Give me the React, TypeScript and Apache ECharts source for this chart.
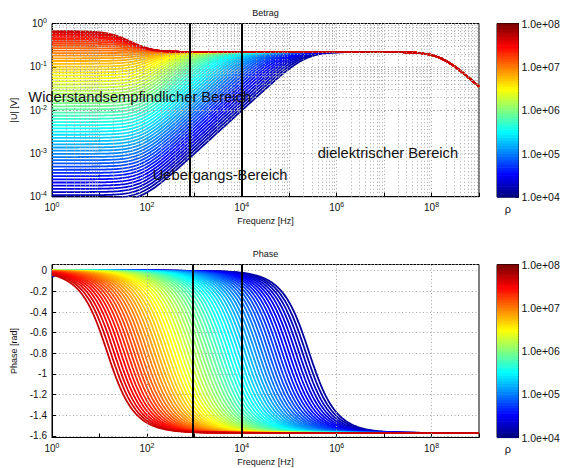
import React, { useEffect, useRef } from "react";
import * as echarts from "echarts";

const FONT = '"Liberation Sans", Arial, Helvetica, sans-serif';
const TXT = "#111";

// ---- data / model parameters ----
const rhoExponentRange = [4, 8]; // colour bar: rho from 1e4 to 1e8
const curveCount = 61;
const curveColorRange = [0.03, 0.93]; // part of the jet map used by the curves
// magnitude: low-frequency ratio G (rho=1e4 -> rho=1e8), electrode corner, capacitive ratio, HF corner
const lowFreqRatio = [13000, 0.5];
const electrodeCornerHz = [78];
const capacitiveRatio = [0.282];
const highFreqCornerHz = [1.6e8];
// phase: corner frequencies (rho=1e4 -> rho=1e8), steepness, low-frequency dip
const phaseCornerHz = [2.6e5, 14.5];
const phaseExponent = [1.2];
const phaseDipHz = [0.25];
// axes
const freqRange = [1, 1e9];
const magRange = [1e-4, 1];
const phaseRange = [-1.615, 0.06];
const boundaryTopHz = [800, 1e4];
const boundaryBottomHz = [920, 1e4];
const bottomGridHz = [1e2, 1e4, 1e6, 1e8];
const minorMultipliers = [2, 3, 4, 5, 6, 7, 8, 9];
const colorbarBands = 64;
const annotationTexts = ["Widerstandsempfindlicher Bereich", "Uebergangs-Bereich", "dielektrischer Bereich"];

const freqs = Array.from({ length: 271 }, (_, i) => Math.pow(10, i / 30));

function jet(t: number) {
  const c = (x: number) => Math.max(0, Math.min(1, x));
  const r = c(Math.min(4 * t - 1.5, -4 * t + 4.5));
  const g = c(Math.min(4 * t - 0.5, -4 * t + 3.5));
  const b = c(Math.min(4 * t + 0.5, -4 * t + 2.5));
  return `rgb(${Math.round(r * 255)},${Math.round(g * 255)},${Math.round(b * 255)})`;
}

function magnitude(f: number, G: number) {
  const fs = electrodeCornerHz[0];
  const k = capacitiveRatio[0];
  const x = f / fs;
  const den = 1 + x * x;
  const re = 1 + (G + (x * x) / k) / den;
  const im = (x / k - G * x) / den;
  const u = 1 / Math.sqrt(re * re + im * im);
  return u / Math.sqrt(1 + Math.pow(f / highFreqCornerHz[0], 2));
}

function phase(f: number, fc: number, fd: number) {
  return -Math.atan(Math.pow(f / fc, phaseExponent[0])) - Math.atan(Math.pow(fd / f, 2));
}

const supLabel = (v: number) => {
  const e = Math.round(Math.log10(v));
  return `{b|10}{s|${e}}`;
};
const supLabelEven = (v: number) => {
  const e = Math.round(Math.log10(v));
  return e % 2 === 0 ? `{b|10}{s|${e}}` : "";
};
const rich = {
  b: { fontSize: 10, fontFamily: FONT, color: TXT, lineHeight: 12 },
  s: { fontSize: 7, fontFamily: FONT, color: TXT, padding: [0, 0, 6, 0] },
};

const dotted = { color: "#a6a6a6", width: 1, type: [1, 2.5] as any };

function buildOption() {
  const series: any[] = [];
  for (let i = 0; i < curveCount; i++) {
    const t = i / (curveCount - 1);
    const G = lowFreqRatio[0] * Math.pow(lowFreqRatio[1] / lowFreqRatio[0], t);
    const fc = phaseCornerHz[0] * Math.pow(phaseCornerHz[1] / phaseCornerHz[0], t);
    const fd = phaseDipHz[0] * Math.pow(10, -(rhoExponentRange[1] - rhoExponentRange[0]) * t);
    const color = jet(curveColorRange[0] + (curveColorRange[1] - curveColorRange[0]) * t);
    series.push({
      type: "line", xAxisIndex: 0, yAxisIndex: 0, z: 3, silent: true,
      showSymbol: false, symbol: "none",
      lineStyle: { color, width: 1.8 },
      data: freqs.map((f) => [f, magnitude(f, G)]),
    });
    series.push({
      type: "line", xAxisIndex: 1, yAxisIndex: 1, z: 3, silent: true,
      showSymbol: false, symbol: "none",
      lineStyle: { color, width: 1.8 },
      data: freqs.map((f) => [f, phase(f, fc, fd)]),
    });
  }
  const minorX: number[] = [];
  for (let e = 0; e < 9; e++) minorMultipliers.forEach((m) => minorX.push(m * Math.pow(10, e)));
  const minorY: number[] = [];
  for (let e = -4; e < 0; e++) minorMultipliers.forEach((m) => minorY.push(m * Math.pow(10, e)));

  const mlBase = { silent: true, symbol: ["none", "none"], label: { show: false }, animation: false };
  series.push({
    type: "line", xAxisIndex: 0, yAxisIndex: 0, z: 1, data: [],
    markLine: { ...mlBase, lineStyle: dotted, data: [...minorX.map((v) => ({ xAxis: v })), ...minorY.map((v) => ({ yAxis: v }))] },
  });
  series.push({
    type: "line", xAxisIndex: 1, yAxisIndex: 1, z: 1, data: [],
    markLine: { ...mlBase, lineStyle: dotted, data: bottomGridHz.map((v) => ({ xAxis: v })) },
  });
  series.push({
    type: "line", xAxisIndex: 0, yAxisIndex: 0, z: 10, data: [],
    markLine: { ...mlBase, lineStyle: { color: "#000", width: 2, type: "solid" }, data: boundaryTopHz.map((v) => ({ xAxis: v })) },
  });
  series.push({
    type: "line", xAxisIndex: 1, yAxisIndex: 1, z: 10, data: [],
    markLine: { ...mlBase, lineStyle: { color: "#000", width: 2, type: "solid" }, data: boundaryBottomHz.map((v) => ({ xAxis: v })) },
  });

  const span = rhoExponentRange[1] - rhoExponentRange[0];
  const bands = Array.from({ length: colorbarBands }, (_, b) => [
    0,
    Math.pow(10, rhoExponentRange[0] + (span * b) / colorbarBands),
    1,
    Math.pow(10, rhoExponentRange[0] + (span * (b + 1)) / colorbarBands),
    b,
  ]);
  const renderBand = (params: any, api: any) => {
    const p0 = api.coord([api.value(0), api.value(1)]);
    const p1 = api.coord([api.value(2), api.value(3)]);
    return {
      type: "rect",
      shape: { x: p0[0], y: p1[1], width: p1[0] - p0[0], height: p0[1] - p1[1] + 0.6 },
      style: { fill: jet(api.value(4) / (colorbarBands - 1)) },
    };
  };
  [2, 3].forEach((gi) =>
    series.push({
      type: "custom", xAxisIndex: gi, yAxisIndex: gi, silent: true,
      encode: { x: [0, 2], y: [1, 3] },
      data: bands, renderItem: renderBand,
    })
  );

  const gridBase = { show: true, borderColor: "#000", borderWidth: 1, backgroundColor: "#fff", outerBoundsMode: "none", containLabel: false };
  const axisLine = { show: true, onZero: false, lineStyle: { color: "#000", width: 1 } };
  const axisTick = { show: true, inside: true, length: 4, lineStyle: { color: "#000" } };
  const nameStyle = { fontSize: 9, fontFamily: FONT, color: TXT };

  const freqAxis = (gi: number, splitShow: boolean) => ({
    type: "log", logBase: 10, gridIndex: gi, min: freqRange[0], max: freqRange[1],
    axisLine, axisTick,
    axisLabel: { formatter: supLabelEven, rich, margin: 4, color: TXT },
    splitLine: { show: splitShow, lineStyle: dotted },
    name: "Frequenz [Hz]", nameLocation: "middle", nameGap: 20, nameTextStyle: nameStyle,
  });

  const cbX = (gi: number) => ({
    type: "value", gridIndex: gi, min: 0, max: 1, show: true,
    axisLine: { show: false }, axisTick: { show: false }, axisLabel: { show: false }, splitLine: { show: false },
    name: "ρ", nameLocation: "middle", nameGap: 6, nameTextStyle: { fontSize: 11, fontFamily: FONT, color: TXT },
  });
  const cbY = (gi: number) => ({
    type: "log", logBase: 10, gridIndex: gi, min: Math.pow(10, rhoExponentRange[0]), max: Math.pow(10, rhoExponentRange[1]),
    position: "right",
    axisLine: { show: true, onZero: false, lineStyle: { color: "#000" } },
    axisTick: { show: true, inside: true, length: 3, lineStyle: { color: "#000" } },
    axisLabel: {
      margin: 3, fontSize: 10.5, fontFamily: FONT, color: TXT,
      formatter: (v: number) => `1.0e+0${Math.round(Math.log10(v))}`,
    },
    splitLine: { show: false },
  });

  const txt = (text: string, x: number, y: number, size: number, align = "left") => ({
    type: "text", x, y, z: 100, silent: true,
    style: { text, fontSize: size, fontFamily: FONT, fill: TXT, align, verticalAlign: "middle" },
  });

  return {
    animation: false,
    backgroundColor: "#fff",
    textStyle: { fontFamily: FONT },
    grid: [
      { ...gridBase, left: 52, top: 23.5, width: 427, height: 173.2 },
      { ...gridBase, left: 52, top: 264.5, width: 427, height: 173 },
      { ...gridBase, left: 497, top: 23.5, width: 21.5, height: 173.5 },
      { ...gridBase, left: 497, top: 264.5, width: 21.5, height: 173 },
    ],
    xAxis: [freqAxis(0, true), freqAxis(1, false), cbX(2), cbX(3)],
    yAxis: [
      {
        type: "log", logBase: 10, gridIndex: 0, min: magRange[0], max: magRange[1],
        axisLine, axisTick,
        axisLabel: { formatter: supLabel, rich, margin: 5, color: TXT },
        splitLine: { show: true, lineStyle: dotted },
        name: "|U| [V]", nameLocation: "middle", nameGap: 29, nameTextStyle: nameStyle,
      },
      {
        type: "value", gridIndex: 1, min: phaseRange[0], max: phaseRange[1], splitNumber: 8,
        axisLine, axisTick,
        axisLabel: {
          showMinLabel: false, showMaxLabel: false, margin: 5, fontSize: 10, fontFamily: FONT, color: TXT,
          formatter: (v: number) => {
            if (Math.abs(v * 5 - Math.round(v * 5)) > 1e-6) return "";
            const r = Math.round(v * 10) / 10;
            return r === 0 ? "0" : String(r);
          },
        },
        splitLine: { show: true, lineStyle: dotted },
        name: "Phase [rad]", nameLocation: "middle", nameGap: 31, nameTextStyle: nameStyle,
      },
      cbY(2),
      cbY(3),
    ],
    graphic: [
      txt("Betrag", 265.5, 12.5, 9, "center"),
      txt("Phase", 265.5, 254, 9, "center"),
      txt(annotationTexts[0], 28.3, 96.7, 14.7),
      txt(annotationTexts[1], 152.7, 175, 14.7),
      txt(annotationTexts[2], 317.7, 152.7, 14.7),
    ],
    series,
  };
}

export default function App() {
  const ref = useRef<HTMLDivElement>(null);
  useEffect(() => {
    if (!ref.current) return;
    const chart = echarts.init(ref.current, null, { renderer: "svg" });
    chart.setOption(buildOption() as any);
    return () => chart.dispose();
  }, []);
  return (
    <div
      ref={ref}
      style={{ position: "fixed", left: 0, top: 0, width: 565, height: 468, background: "#fff" }}
    />
  );
}
